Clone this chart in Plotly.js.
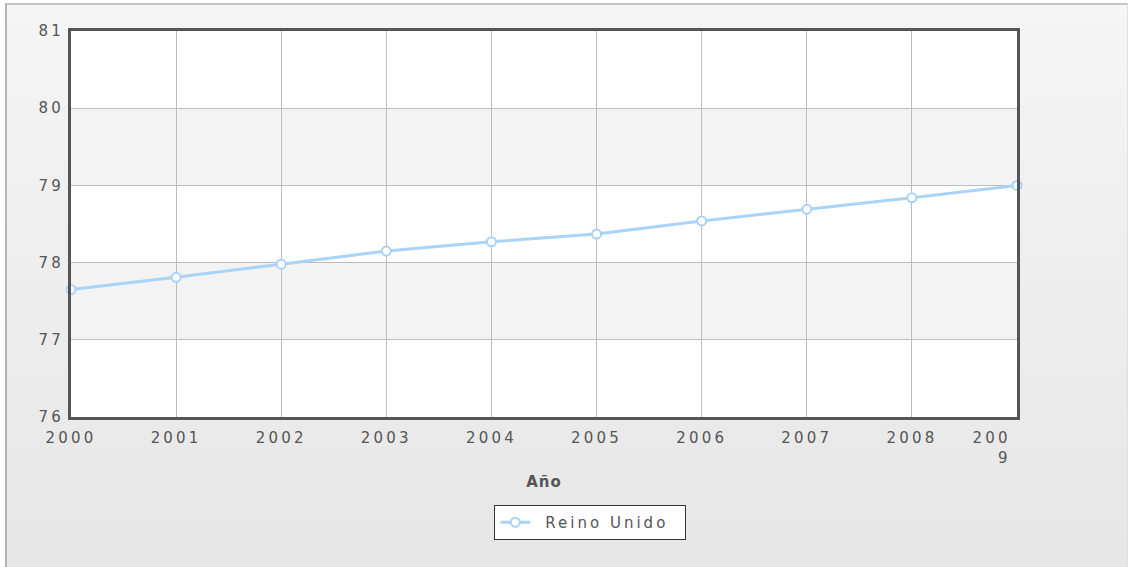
<!DOCTYPE html>
<html>
<head>
<meta charset="utf-8">
<script src="https://cdn.plot.ly/plotly-3.0.1.min.js"></script>
<style>
  html, body { margin: 0; padding: 0; background: #ffffff; }
  #wrap { position: relative; width: 1131px; height: 567px; overflow: hidden; }
  #panel { position: absolute; left: 5px; top: 3px; width: 1120px; height: 570px;
           border-left: 2px solid #b4b4b4; border-top: 2px solid #c4c4c4; border-right: 1px solid #e0e0e0;
           background: linear-gradient(to bottom, #f5f5f5 0%, #e6e6e6 100%); }
  #chart { position: absolute; left: 0; top: 0; width: 1131px; height: 567px; }
  .xtick text, .ytick text { letter-spacing: 3.2px; }
  .legendtext { letter-spacing: 3px; transform: translateX(10px); }
  .g-xtitle text { letter-spacing: 1px; }
</style>
</head>
<body>
<div id="wrap">
  <div id="panel"></div>
  <div id="chart"></div>
</div>
<script>
const FS = '\u2007';
const years = [2000, 2001, 2002, 2003, 2004, 2005, 2006, 2007, 2008, 2009];
const yearLabels = ['2000', '2001', '2002', '2003', '2004', '2005', '2006', '2007', '2008',
  '200' + FS + FS + FS + FS + '<br>' + FS + FS + '9' + FS + FS + FS + FS];
const reinoUnido = [77.65, 77.81, 77.98, 78.15, 78.27, 78.37, 78.54, 78.69, 78.84, 79.0];
const yTicks = [76, 77, 78, 79, 80, 81];
const seriesName = 'Reino Unido';
const xTitle = 'Año';

const bands = [];
for (let i = 0; i < yTicks.length - 1; i++) {
  if (i % 2 === 1) {
    bands.push({type: 'rect', xref: 'paper', yref: 'y', x0: 0, x1: 1,
      y0: yTicks[i], y1: yTicks[i + 1], fillcolor: '#f3f3f3', line: {width: 0}, layer: 'below'});
  }
}

const font = {family: '"DejaVu Sans", sans-serif', size: 15, color: '#555555'};

Plotly.newPlot('chart', [{
  x: years, y: reinoUnido, type: 'scatter', mode: 'lines+markers', name: seriesName,
  line: {color: '#a9d3f7', width: 3},
  marker: {symbol: 'circle', size: 9, color: '#ffffff', line: {color: '#a9d3f7', width: 2}},
  cliponaxis: false
}], {
  width: 1131, height: 567,
  margin: {l: 71, r: 114, t: 31, b: 150, pad: 0},
  paper_bgcolor: 'rgba(0,0,0,0)',
  plot_bgcolor: '#ffffff',
  font: font,
  showlegend: true,
  xaxis: {
    range: [2000, 2009], tickvals: years, ticktext: yearLabels,
    showgrid: true, gridcolor: '#bdbdbd', gridwidth: 1, zeroline: false,
    showline: true, linecolor: '#555555', linewidth: 3, mirror: true,
    ticks: 'outside', ticklen: 5, tickcolor: 'rgba(0,0,0,0)',
    tickfont: font, automargin: false,
    title: {text: '<b>' + xTitle + '</b>', font: {family: '"DejaVu Sans", sans-serif', size: 15, color: '#555555'}, standoff: 11}
  },
  yaxis: {
    range: [76, 81], tickvals: yTicks,
    showgrid: true, gridcolor: '#bdbdbd', gridwidth: 1, zeroline: false,
    showline: true, linecolor: '#555555', linewidth: 3, mirror: true,
    ticks: 'outside', ticklen: 1, tickcolor: 'rgba(0,0,0,0)',
    tickfont: font, automargin: false
  },
  shapes: bands,
  legend: {
    orientation: 'h', x: 0.549, xanchor: 'center', y: -0.228, yanchor: 'top',
    bgcolor: '#ffffff', bordercolor: '#333333', borderwidth: 1,
    font: font, itemwidth: 30, entrywidth: 145, entrywidthmode: 'pixels'
  }
}, {displayModeBar: false, staticPlot: true});
</script>
</body>
</html>
